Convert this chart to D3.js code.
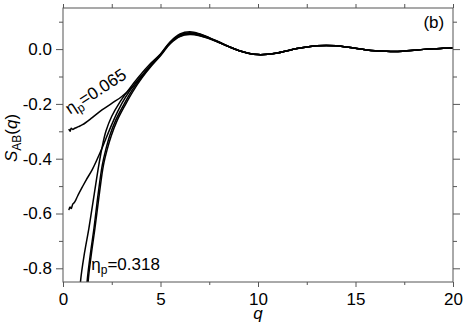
<!DOCTYPE html>
<html>
<head>
<meta charset="utf-8">
<script src="https://cdn.jsdelivr.net/npm/d3@7"></script>
<style>
  body { margin: 0; background: #fff; }
  svg { font-family: "Liberation Sans", Arial, sans-serif; }
</style>
</head>
<body>
<div id="chart"></div>
<script>
// tick values
const xMajor = [0, 5, 10, 15, 20];
const xMinor = [2.5, 7.5, 12.5, 17.5];
const yMajor = [0.0, -0.2, -0.4, -0.6, -0.8];
const yMinor = [0.1, -0.1, -0.3, -0.5, -0.7];

// low-q part of each curve, [q, S_AB]
const lowA = [[0.3, -0.292], [0.36, -0.3], [0.42, -0.289], [0.5, -0.293], [0.6, -0.289], [0.8, -0.283], [1.0, -0.276],
  [1.5, -0.25], [2.0, -0.222], [2.5, -0.198], [3.0, -0.174], [3.5, -0.142], [4.0, -0.1], [4.5, -0.058], [5.0, -0.02]];
const lowB = [[0.3, -0.588], [0.36, -0.576], [0.42, -0.582], [0.5, -0.566], [0.58, -0.56], [0.66, -0.55], [0.75, -0.536],
  [1.0, -0.502], [1.2, -0.476], [1.5, -0.44], [2.0, -0.362], [2.4, -0.292], [2.8, -0.228], [3.2, -0.176], [3.7, -0.126],
  [4.2, -0.085], [4.6, -0.052], [5.0, -0.02]];
const lowC = [[0.8, -0.98], [0.9, -0.847], [1.1, -0.745], [1.33, -0.653], [1.6, -0.53], [1.84, -0.422], [2.0, -0.36],
  [2.2, -0.3], [2.5, -0.245], [2.9, -0.195], [3.4, -0.145], [3.9, -0.1], [4.5, -0.052], [5.0, -0.018]];
const lowD = [[1.15, -0.98], [1.24, -0.847], [1.4, -0.75], [1.59, -0.653], [1.8, -0.53], [2.01, -0.425], [2.2, -0.365],
  [2.4, -0.315], [2.7, -0.26], [3.1, -0.205], [3.5, -0.155], [4.0, -0.105], [4.5, -0.06], [5.0, -0.022]];
const lowE = [[1.2, -0.98], [1.29, -0.847], [1.45, -0.75], [1.64, -0.653], [1.86, -0.53], [2.07, -0.425], [2.27, -0.365],
  [2.48, -0.315], [2.78, -0.26], [3.18, -0.205], [3.58, -0.155], [4.05, -0.105], [4.55, -0.06], [5.0, -0.024]];

// high-q part, sampled on qTail
const qTail = [5.5, 6, 6.5, 7, 7.5, 8, 8.5, 9, 9.5, 10, 10.5, 11, 11.5, 12, 12.5, 13, 13.5, 14, 14.5, 15,
  15.5, 16, 16.5, 17, 17.5, 18, 18.5, 19, 19.5, 20];
const tailA = [0.022, 0.048, 0.055, 0.05, 0.039, 0.024, 0.009, -0.005, -0.015, -0.02, -0.019, -0.014, -0.006, 0.002, 0.008,
  0.012, 0.013, 0.012, 0.008, 0.003, -0.002, -0.006, -0.008, -0.009, -0.007, -0.004, -0.001, 0.001, 0.003, 0.004];
const tailB = [0.025, 0.052, 0.06, 0.054, 0.041, 0.025, 0.009, -0.005, -0.015, -0.02, -0.019, -0.014, -0.006, 0.002, 0.008,
  0.012, 0.013, 0.012, 0.008, 0.003, -0.002, -0.006, -0.008, -0.009, -0.007, -0.004, -0.001, 0.001, 0.003, 0.004];
const tailC = [0.027, 0.055, 0.063, 0.056, 0.042, 0.026, 0.01, -0.005, -0.015, -0.02, -0.019, -0.014, -0.006, 0.002, 0.008,
  0.012, 0.013, 0.012, 0.008, 0.003, -0.002, -0.006, -0.008, -0.009, -0.007, -0.004, -0.001, 0.001, 0.003, 0.004];
const tailD = [0.024, 0.051, 0.058, 0.053, 0.04, 0.025, 0.009, -0.005, -0.015, -0.02, -0.019, -0.014, -0.006, 0.002, 0.008,
  0.012, 0.013, 0.012, 0.008, 0.003, -0.002, -0.006, -0.008, -0.009, -0.007, -0.004, -0.001, 0.001, 0.003, 0.004];
const tailE = [0.02, 0.046, 0.053, 0.049, 0.038, 0.024, 0.009, -0.005, -0.015, -0.02, -0.019, -0.014, -0.006, 0.002, 0.008,
  0.012, 0.013, 0.012, 0.008, 0.003, -0.002, -0.006, -0.008, -0.009, -0.007, -0.004, -0.001, 0.001, 0.003, 0.004];

const series = [
  lowA.concat(qTail.map((q, i) => [q, tailA[i]])),
  lowB.concat(qTail.map((q, i) => [q, tailB[i]])),
  lowC.concat(qTail.map((q, i) => [q, tailC[i]])),
  lowD.concat(qTail.map((q, i) => [q, tailD[i]])),
  lowE.concat(qTail.map((q, i) => [q, tailE[i]]))
];

const svg = d3.select("#chart").append("svg")
  .attr("width", 463)
  .attr("height", 323);

const margin = {top: 8, right: 10, bottom: 41, left: 63};
const width = 463 - margin.left - margin.right;
const height = 323 - margin.top - margin.bottom;
const chart = svg.append("g").attr("transform", `translate(${margin.left},${margin.top})`);

const xScale = d3.scaleLinear().domain([0, 20]).range([0, width]);
const yScale = d3.scaleLinear().domain([-0.85, 0.15]).range([height, 0]);

const axisColor = "#555";
const fontSize = 17;

function styleAxis(g) {
  g.select(".domain").remove();
  g.selectAll(".tick line").attr("stroke", axisColor);
  g.selectAll(".tick text").attr("font-size", fontSize).attr("fill", "#000");
}

// bottom
chart.append("g").attr("transform", `translate(0,${height})`)
  .call(d3.axisBottom(xScale).tickValues(xMajor).tickSize(5).tickPadding(6).tickFormat(d3.format("d")))
  .call(styleAxis);
chart.append("g").attr("transform", `translate(0,${height})`)
  .call(d3.axisBottom(xScale).tickValues(xMinor).tickSize(3).tickFormat(""))
  .call(styleAxis);
// top
chart.append("g")
  .call(d3.axisTop(xScale).tickValues(xMajor.concat(xMinor)).tickSize(4).tickFormat(""))
  .call(styleAxis);
// left
chart.append("g")
  .call(d3.axisLeft(yScale).tickValues(yMajor).tickSize(7).tickPadding(4).tickFormat(d3.format(".1f")))
  .call(styleAxis);
chart.append("g")
  .call(d3.axisLeft(yScale).tickValues(yMinor).tickSize(4).tickFormat(""))
  .call(styleAxis);
// right
chart.append("g").attr("transform", `translate(${width},0)`)
  .call(d3.axisRight(yScale).tickValues(yMajor).tickSize(7).tickFormat(""))
  .call(styleAxis);
chart.append("g").attr("transform", `translate(${width},0)`)
  .call(d3.axisRight(yScale).tickValues(yMinor).tickSize(4).tickFormat(""))
  .call(styleAxis);

// plain hyphen for negatives, like the original
chart.selectAll(".tick text").text(function () { return this.textContent.replace("\u2212", "-"); });

chart.append("defs").append("clipPath").attr("id", "clip")
  .append("rect").attr("width", width).attr("height", height);

const line = d3.line()
  .x(d => xScale(d[0]))
  .y(d => yScale(d[1]))
  .curve(d3.curveCatmullRom);

chart.append("g").attr("clip-path", "url(#clip)")
  .selectAll("path")
  .data(series)
  .join("path")
  .attr("d", line)
  .attr("fill", "none")
  .attr("stroke", "#000")
  .attr("stroke-width", 1.5)
  .attr("stroke-linejoin", "round");

// frame
chart.append("rect")
  .attr("width", width)
  .attr("height", height)
  .attr("fill", "none")
  .attr("stroke", axisColor)
  .attr("stroke-width", 1);

// labels
chart.append("text")
  .attr("x", xScale(19.55))
  .attr("y", 20)
  .attr("text-anchor", "end")
  .attr("font-size", fontSize)
  .text("(b)");

svg.append("text")
  .attr("x", margin.left + xScale(10))
  .attr("y", 319)
  .attr("text-anchor", "middle")
  .attr("font-size", fontSize)
  .attr("font-style", "italic")
  .text("q");

const yLabel = svg.append("text")
  .attr("transform", "translate(17,138) rotate(-90)")
  .attr("text-anchor", "middle")
  .attr("font-size", fontSize);
yLabel.append("tspan").attr("font-style", "italic").text("S");
yLabel.append("tspan").attr("font-size", 12).attr("dy", 4).text("AB");
yLabel.append("tspan").attr("dy", -4).text("(");
yLabel.append("tspan").attr("font-style", "italic").text("q");
yLabel.append("tspan").text(")");

function etaLabel(sel, value) {
  sel.append("tspan").text("\u03b7");
  sel.append("tspan").attr("font-size", 12).attr("dy", 4).text("p");
  sel.append("tspan").attr("dy", -4).text("=" + value);
}

chart.append("text")
  .attr("transform", `translate(${xScale(0.36)},${yScale(-0.24)}) rotate(-33)`)
  .attr("font-size", fontSize)
  .call(etaLabel, "0.065");

chart.append("text")
  .attr("x", xScale(1.45))
  .attr("y", yScale(-0.806))
  .attr("font-size", fontSize)
  .call(etaLabel, "0.318");
</script>
</body>
</html>
